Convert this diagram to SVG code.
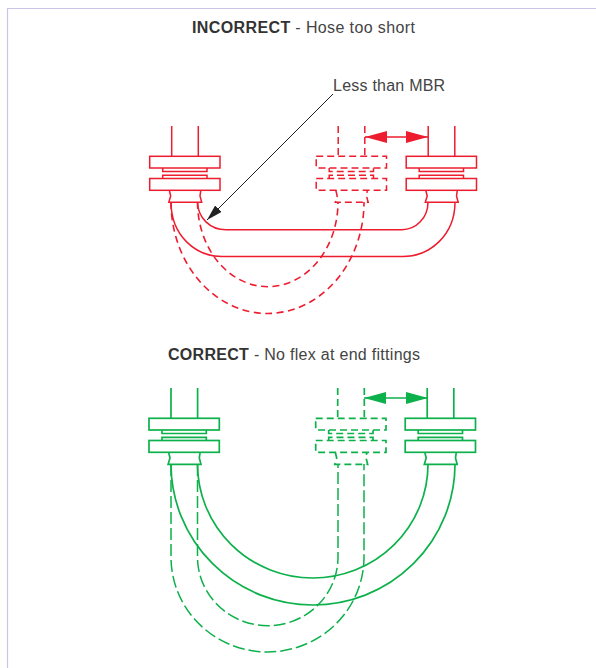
<svg xmlns="http://www.w3.org/2000/svg" width="596" height="668" viewBox="0 0 596 668">
<style>
text{font-family:"Liberation Sans",Arial,sans-serif;fill:#444;font-size:16px}
tspan.b{font-weight:bold;fill:#333}
.r{stroke:#ed1c2e;fill:none;stroke-width:1.5}
.g{stroke:#0db14b;fill:none;stroke-width:1.7}
.rd{stroke-dasharray:7 4.5;stroke-width:1.6}
.gd{stroke-dasharray:12 4;stroke-width:1.5}
.fd{stroke-dasharray:7 4}
</style>
<defs>
<g id="fit">
<path d="M171.7 126V156.3M198.3 126V156.3"/>
<rect x="149.7" y="156.3" width="70.3" height="11.7"/>
<path d="M162.7 168V171.5H207V168M162.7 178.5V175.3H207V178.5"/>
<rect x="149.7" y="178.5" width="70.3" height="11.8"/>
<path d="M169.3 190.3L170.7 196L168.8 202.3H201.7L200 196L200.8 190.3"/>
</g>
<marker id="ah" markerUnits="userSpaceOnUse" viewBox="0 0 22 12" refX="22" refY="6" markerWidth="22" markerHeight="12" orient="auto-start-reverse"><path d="M0 0L22 6L0 12Z" fill="context-stroke"/></marker>
<marker id="lead" markerUnits="userSpaceOnUse" viewBox="0 0 16 9" refX="16" refY="4.5" markerWidth="16" markerHeight="9" orient="auto"><path d="M0 0L16 4.5L0 9Z" fill="#222"/></marker>
</defs>
<path id="frame" d="M7.5 668V8.5H596" fill="none" stroke="#c9c5e8" stroke-width="1.2"/>
<g id="titles">
<text x="192" y="33" letter-spacing="0.38"><tspan class="b">INCORRECT</tspan> - Hose too short</text>
<text x="168" y="360" letter-spacing="0.29"><tspan class="b">CORRECT</tspan> - No flex at end fittings</text>
<text x="333" y="91" letter-spacing="0.23">Less than MBR</text>
</g>
<g id="incorrect-left" class="r"><use href="#fit"/></g>
<g id="incorrect-right" class="r"><use href="#fit" x="256.5"/></g>
<g id="incorrect-ghost" class="r fd"><use href="#fit" x="166.5"/></g>
<g id="correct-left" class="g"><use href="#fit" x="-0.7" y="262"/></g>
<g id="correct-right" class="g"><use href="#fit" x="255.5" y="262"/></g>
<g id="correct-ghost" class="g fd"><use href="#fit" x="166" y="262"/></g>
<g id="connectors">
<path class="r" d="M171 202C171 235 195 256.5 222 256.5H403C430 256.5 455 235 455 202"/>
<path class="r" d="M197.5 202C198 218 210 229.7 226 229.7H402C416 229.7 428 218 428 202"/>
<path class="r rd" d="M171 202A96.5 111.5 0 0 0 364 202"/>
<path class="r rd" d="M197.5 202A70.25 84.7 0 0 0 338 202"/>
<path class="r" d="M365 137H428" marker-start="url(#ah)" marker-end="url(#ah)"/>
<path class="g" d="M171 464A142 141 0 0 0 455 464"/>
<path class="g" d="M197.5 464A115.25 114 0 0 0 428 464"/>
<path class="g gd" d="M171 464V557A96.5 95 0 0 0 364 557V464"/>
<path class="g gd" d="M197.5 464V557A70.25 68.7 0 0 0 338 557V464"/>
<path class="g" d="M364 398H428" marker-start="url(#ah)" marker-end="url(#ah)"/>
<path d="M333 94L207 220" fill="none" stroke="#222" stroke-width="1" marker-end="url(#lead)"/>
</g>
</svg>
